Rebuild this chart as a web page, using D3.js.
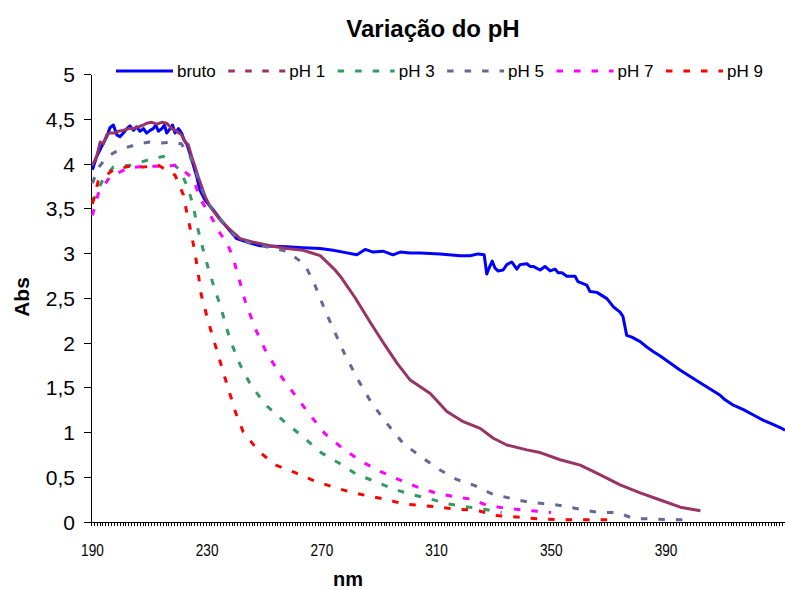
<!DOCTYPE html>
<html>
<head>
<meta charset="utf-8">
<script src="https://cdn.jsdelivr.net/npm/d3@7"></script>
<style>
  body { margin: 0; background: #fff; }
  svg { display: block; }
  text { font-family: Arial, "Liberation Sans", sans-serif; fill: #000; }
</style>
</head>
<body>
<svg id="chart" width="785" height="590"></svg>
<script>
// Absorbance spectra (nm, Abs) of the raw sample and of the sample at each pH
const bruto = [[190,3.93],[191.5,4.08],[193.2,4.19],[195,4.30],[196.1,4.40],[197.3,4.43],[198.5,4.32],[199.6,4.30],[200.8,4.34],[202,4.39],[203.1,4.42],[204.3,4.37],[205.4,4.41],[206.6,4.36],[207.8,4.39],[208.9,4.34],[210.1,4.37],[211.2,4.39],[212.1,4.43],[213,4.36],[214.2,4.39],[215.1,4.43],[215.9,4.34],[217.1,4.39],[217.9,4.43],[218.8,4.34],[220,4.39],[221.1,4.34],[222,4.26],[222.9,4.22],[224,4.11],[225.2,3.98],[226.4,3.85],[227.5,3.70],[229.3,3.59],[232.2,3.48],[234.5,3.38],[240.3,3.16],[245,3.11],[248.5,3.08],[257.8,3.07],[263.4,3.06],[269.4,3.05],[273.9,3.03],[277.4,3.01],[282.2,2.98],[285.1,3.04],[287.9,3.01],[291.3,3.02],[294.8,2.98],[297.3,3.01],[300.8,3.00],[304.3,3.00],[311.2,2.99],[318.2,2.97],[321.7,2.97],[324.5,2.99],[326.6,2.98],[327.5,2.765],[328.3,2.83],[329.4,2.91],[330.4,2.83],[331.4,2.80],[333.2,2.81],[334.5,2.87],[336.2,2.90],[338,2.82],[339.1,2.87],[341.5,2.88],[342.6,2.85],[343.7,2.85],[346.1,2.81],[347.8,2.85],[349.6,2.80],[351.3,2.82],[352.4,2.78],[353.7,2.78],[355.4,2.74],[358.3,2.74],[359.3,2.68],[362.4,2.64],[363.5,2.57],[365.9,2.56],[369.4,2.49],[371.6,2.40],[374,2.34],[375,2.29],[376.3,2.08],[378.1,2.06],[381,2.01],[383.3,1.95],[385.5,1.90],[388,1.85],[395,1.69],[401.9,1.55],[408.9,1.41],[410.6,1.36],[413.5,1.30],[417,1.25],[420.5,1.19],[424,1.13],[426.9,1.09],[429.8,1.05],[431.5,1.02]];

const ph1 = [[190,3.98],[191.5,4.08],[192.7,4.24],[193.8,4.22],[195,4.32],[196.1,4.34],[197.9,4.34],[199,4.36],[200.8,4.37],[202.5,4.39],[204.3,4.39],[206,4.41],[207.8,4.43],[208.9,4.45],[210.7,4.46],[212.4,4.44],[214.2,4.46],[215.9,4.45],[217.7,4.39],[219.4,4.36],[221.1,4.32],[222.3,4.24],[223.4,4.21],[224.6,4.08],[225.8,3.96],[226.9,3.85],[228.1,3.74],[229.3,3.63],[231,3.52],[234.5,3.37],[238,3.26],[241.5,3.16],[246.1,3.12],[251.9,3.08],[257.8,3.05],[263.5,3.03],[266.5,3.00],[269.4,2.97],[271.7,2.90],[274.6,2.81],[276.9,2.72],[281.6,2.50],[286.8,2.23],[292,1.97],[296.2,1.77],[300.8,1.58],[307.8,1.43],[313.6,1.23],[319.3,1.115],[325.2,1.04],[329.8,0.93],[334.5,0.855],[341.5,0.80],[346.1,0.77],[353.1,0.69],[360.1,0.63],[367.1,0.52],[374,0.41],[381,0.32],[388,0.24],[395,0.16],[402,0.12]];

const ph3 = [[190,3.57],[193.8,3.83],[197.3,3.96],[203.1,3.98],[209.5,4.04],[214.7,4.08],[220.5,3.93],[223.4,3.72],[225.2,3.52],[226.6,3.29],[228.5,3.05],[230.2,2.85],[232.4,2.62],[234.5,2.42],[238,2.03],[241.5,1.75],[245.2,1.525],[250.5,1.30],[256.9,1.115],[263.3,0.95],[269.7,0.77],[276.1,0.65],[282.5,0.52],[288.9,0.445],[294.9,0.363],[301.4,0.30],[308,0.25],[314.1,0.195],[320.3,0.165],[326.6,0.136],[332.7,0.10]];

const ph5 = [[190,3.78],[192,3.95],[195,4.07],[198,4.13],[202,4.18],[206,4.22],[210,4.24],[214,4.23],[218,4.24],[221,4.22],[224,4.08],[226,3.92],[228,3.72],[230,3.58],[232,3.47],[235,3.36],[240,3.18],[245,3.11],[251.9,3.06],[257.8,3.02],[264.1,2.87],[267.6,2.64],[271.1,2.36],[274.6,2.11],[278.1,1.86],[283.3,1.545],[287.4,1.32],[292.6,1.10],[298.4,0.87],[304.8,0.72],[311.2,0.575],[317,0.47],[323.4,0.40],[329.2,0.31],[335.6,0.26],[341.5,0.22],[353.1,0.18],[361,0.13],[367,0.10],[373,0.10],[379,0.03],[385,0.03],[391,0.02],[397,0.02]];

const ph7 = [[190,3.42],[192,3.66],[196.1,3.85],[202.5,3.95],[208.3,3.97],[213.6,3.97],[219.4,3.98],[225.2,3.83],[227.5,3.61],[231.3,3.41],[234.5,3.22],[236.6,3.13],[238.7,2.98],[240.8,2.75],[243.2,2.47],[246.7,2.16],[250.2,1.92],[255.4,1.64],[260.7,1.41],[265.9,1.19],[271.1,0.98],[277.5,0.81],[283.9,0.67],[290.3,0.56],[296.7,0.47],[302.9,0.39],[309.5,0.32],[315.6,0.28],[322,0.25],[327.7,0.18],[334.2,0.147],[340.6,0.128],[349.9,0.10]];

const ph9 = [[190,3.55],[192,3.80],[197.3,3.93],[203.1,3.97],[207.8,3.96],[213,3.98],[218.8,3.87],[221.7,3.65],[223.1,3.42],[224.6,3.20],[225.8,2.99],[226.9,2.77],[227.9,2.54],[229.6,2.33],[231.6,2.10],[233.7,1.88],[235.5,1.68],[237.7,1.45],[240,1.21],[242.6,1.00],[248.1,0.78],[254,0.63],[260.7,0.545],[267,0.46],[273.5,0.39],[279.8,0.33],[286.2,0.285],[292,0.25],[298.7,0.195],[304.8,0.18],[311.2,0.16],[317.6,0.136],[324,0.128],[329.8,0.07],[336.4,0.054],[345.4,0.03],[353.1,0.02],[363.5,0.02],[370.2,0.02]];

const seriesNames = ["bruto", "pH 1", "pH 3", "pH 5", "pH 7", "pH 9"];
const seriesData = [bruto, ph1, ph3, ph5, ph7, ph9];

// Wavelength categories run 1 nm apart from 190 to 431
const firstNm = 190;
const lastNm = 431;
const xTickLabels = [190, 230, 270, 310, 350, 390];
const yTickValues = [0, 0.5, 1, 1.5, 2, 2.5, 3, 3.5, 4, 4.5, 5];

// Drawing styles per series
const styles = [
  { color: "#0000FF", dash: null },
  { color: "#993366", dash: null, legendDash: "6.5,10.5" },
  { color: "#339966", dash: "6.5,11" },
  { color: "#666699", dash: "6.5,11" },
  { color: "#FF00FF", dash: "6.5,11" },
  { color: "#FF0000", dash: "6.5,11" }
];

const svg = d3.select("#chart");
const plot = { left: 91, right: 785, top: 74, bottom: 521.5 };

const x = d3.scaleLinear()
  .domain([firstNm - 0.5, lastNm + 0.5])
  .range([plot.left, plot.right]);
const y = d3.scaleLinear()
  .domain([0, 5])
  .range([plot.bottom, plot.top]);

// Title
svg.append("text")
  .attr("x", 433).attr("y", 37)
  .attr("text-anchor", "middle")
  .style("font-size", "24px").style("font-weight", "bold")
  .text("Variação do pH");

// Y axis
const yAxis = d3.axisLeft(y)
  .tickValues(yTickValues)
  .tickSize(7)
  .tickSizeOuter(0)
  .tickPadding(9)
  .tickFormat(d => String(d).replace(".", ","));
const gy = svg.append("g")
  .attr("transform", `translate(${plot.left},0)`)
  .call(yAxis);
gy.select(".domain").attr("stroke", "#000").attr("stroke-width", 1).attr("shape-rendering", "crispEdges");
gy.selectAll(".tick line").attr("stroke", "#000").attr("shape-rendering", "crispEdges");
gy.selectAll(".tick text")
  .style("font-size", "21px")
  .style("font-family", "Arial, 'Liberation Sans', sans-serif")
  .attr("fill", "#000")
  .attr("dy", "0.36em");

// X axis: a minor tick at every category boundary
const boundaries = d3.range(firstNm - 0.5, lastNm + 1, 1);
const xAxis = d3.axisBottom(x)
  .tickValues(boundaries)
  .tickSize(4)
  .tickSizeOuter(0)
  .tickFormat("");
const gx = svg.append("g")
  .attr("transform", `translate(0,${plot.bottom})`)
  .call(xAxis);
gx.select(".domain").attr("stroke", "#000").attr("shape-rendering", "crispEdges");
gx.selectAll(".tick line").attr("stroke", "#000").attr("shape-rendering", "crispEdges");

// X tick labels every 40 nm
svg.append("g").selectAll("text")
  .data(xTickLabels)
  .join("text")
  .attr("transform", d => `translate(${x(d)},556) scale(0.85,1)`)
  .attr("text-anchor", "middle")
  .style("font-size", "16px")
  .text(d => d);

// Axis titles
svg.append("text")
  .attr("transform", "translate(29,297) rotate(-90)")
  .attr("text-anchor", "middle")
  .style("font-size", "21px").style("font-weight", "bold")
  .text("Abs");
svg.append("text")
  .attr("x", 348).attr("y", 586)
  .attr("text-anchor", "middle")
  .style("font-size", "20px").style("font-weight", "bold")
  .text("nm");

// Series lines
const line = d3.line()
  .x(d => x(d[0]))
  .y(d => y(d[1]));

const linesG = svg.append("g");
seriesData.forEach((data, i) => {
  linesG.append("path")
    .datum(data)
    .attr("d", line)
    .attr("fill", "none")
    .attr("stroke", styles[i].color)
    .attr("stroke-width", 3)
    .attr("stroke-linejoin", "round")
    .attr("stroke-dasharray", styles[i].dash);
});

// Legend in one row above the plot
const legend = svg.append("g").attr("transform", "translate(116,71)");
let cursor = 0;
seriesNames.forEach((name, i) => {
  const item = legend.append("g").attr("transform", `translate(${cursor},0)`);
  item.append("line")
    .attr("x1", 0).attr("x2", 57).attr("y1", 0).attr("y2", 0)
    .attr("stroke", styles[i].color)
    .attr("stroke-width", 3)
    .attr("stroke-dasharray", i === 0 ? null : (styles[i].legendDash || styles[i].dash));
  const t = item.append("text")
    .attr("x", 61).attr("y", 6)
    .style("font-size", "17px")
    .text(name);
  cursor += 61 + t.node().getComputedTextLength() + 12.5;
});
</script>
</body>
</html>
